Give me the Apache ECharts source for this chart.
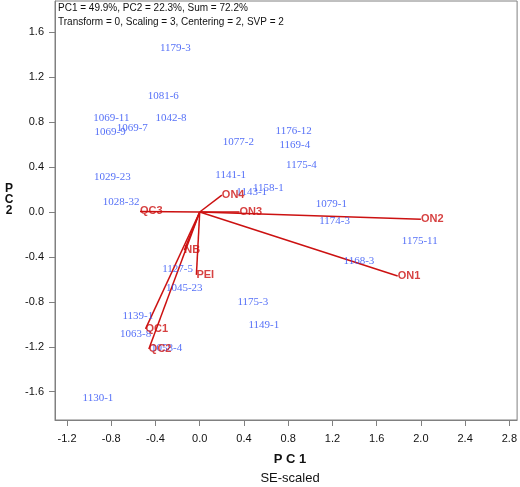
<!DOCTYPE html>
<html>
<head>
<meta charset="utf-8">
<script src="https://cdn.jsdelivr.net/npm/echarts@6/dist/echarts.min.js"></script>
<style>html,body{margin:0;padding:0;background:#fff}#c{width:520px;height:487px}</style>
</head>
<body>
<div id="c"></div>
<script>
// Score labels (sample ids) and their PC1/PC2 coordinates
const scoreNames = ['1179-3','1081-6','1069-11','1042-8','1069-7','1069-9','1077-2','1176-12','1169-4','1175-4','1029-23','1141-1','1158-1','1143-1','1028-32','1079-1','1174-3','1175-11','1168-3','1127-5','1045-23','1175-3','1149-1','1139-1','1063-8','1058-4','1130-1'];
const scoreX = [-0.22,-0.33,-0.80,-0.26,-0.61,-0.81,0.35,0.85,0.86,0.92,-0.79,0.28,0.62,0.47,-0.71,1.19,1.22,1.99,1.44,-0.20,-0.14,0.48,0.58,-0.56,-0.58,-0.30,-0.92];
const scoreY = [1.46,1.03,0.84,0.84,0.75,0.71,0.62,0.72,0.60,0.42,0.31,0.33,0.21,0.18,0.09,0.07,-0.08,-0.26,-0.44,-0.51,-0.68,-0.80,-1.01,-0.93,-1.09,-1.21,-1.66];

// Loading vectors (variables)
const loadNames = ['ON1','ON2','ON3','ON4','QC3','QC1','QC2','PEI','NB'];
const loadX = [1.79,2.00,0.36,0.20,-0.54,-0.49,-0.46,-0.03,-0.14];
const loadY = [-0.57,-0.065,0.0,0.15,0.005,-1.04,-1.22,-0.56,-0.34];

// Tick values
const xTicks = [-1.2,-0.8,-0.4,0.0,0.4,0.8,1.2,1.6,2.0,2.4,2.8];
const yTicks = [-1.6,-1.2,-0.8,-0.4,0.0,0.4,0.8,1.2,1.6];

const RED = '#cc1111';
const BLUE = '#2b4cf5';
const AX = '#808080';

const chart = echarts.init(document.getElementById('c'), null, {renderer:'canvas'});

const loadLineSeries = loadNames.map((n,i)=>({
  type:'line',
  data:[[0,0],[loadX[i],loadY[i]]],
  showSymbol:false,
  lineStyle:{color:RED,width:1.5},
  z:3,
  silent:true
}));

const option = {
  animation:false,
  grid:{left:55,right:2,top:1,bottom:67,show:true,borderColor:AX,borderWidth:1,backgroundColor:'transparent'},
  xAxis:{
    type:'value',min:-1.3087,max:2.870,
    axisLine:{show:true,onZero:false,lineStyle:{color:AX,width:1}},
    axisTick:{show:true,inside:false,length:6,lineStyle:{color:AX},customValues:xTicks},
    axisLabel:{show:true,margin:13,color:'#111',fontSize:11,fontFamily:'Liberation Sans, Arial, sans-serif',customValues:xTicks,formatter:v=>Number(v).toFixed(1)},
    splitLine:{show:false}
  },
  yAxis:{
    type:'value',min:-1.852,max:1.879,
    axisLine:{show:true,onZero:false,lineStyle:{color:AX,width:1}},
    axisTick:{show:true,inside:false,length:6,lineStyle:{color:AX},customValues:yTicks},
    axisLabel:{show:true,margin:11,color:'#111',fontSize:11,fontFamily:'Liberation Sans, Arial, sans-serif',customValues:yTicks,formatter:v=>Number(v).toFixed(1)},
    splitLine:{show:false}
  },
  graphic:[
    {type:'text',left:58,top:3,style:{text:'PC1 = 49.9%, PC2 = 22.3%, Sum = 72.2%',font:'10px "Liberation Sans", Arial, sans-serif',fill:'#111'}},
    {type:'text',left:58,top:17,style:{text:'Transform = 0, Scaling = 3, Centering = 2, SVP = 2',font:'10px "Liberation Sans", Arial, sans-serif',fill:'#111'}},
    {type:'text',x:290,y:459,style:{text:'P C 1',font:'bold 13px "Liberation Sans", Arial, sans-serif',fill:'#111',align:'center',verticalAlign:'middle'}},
    {type:'text',x:290,y:478,style:{text:'SE-scaled',font:'13px "Liberation Sans", Arial, sans-serif',fill:'#111',align:'center',verticalAlign:'middle'}},
    {type:'text',x:9,y:200,style:{text:'P\nC\n2',font:'bold 12px "Liberation Sans", Arial, sans-serif',fill:'#111',align:'center',verticalAlign:'middle',lineHeight:11}}
  ],
  series:[
    ...loadLineSeries,
    {
      type:'scatter',
      data:loadNames.map((n,i)=>({name:n,value:[loadX[i],loadY[i]]})),
      symbolSize:0,
      itemStyle:{color:'rgba(0,0,0,0)'},
      label:{show:true,position:'right',distance:0,formatter:'{b}',color:RED,fontWeight:'bold',fontSize:11,fontFamily:'Liberation Sans, Arial, sans-serif'},
      z:5,silent:true
    },
    {
      type:'scatter',
      data:scoreNames.map((n,i)=>({name:n,value:[scoreX[i],scoreY[i]]})),
      symbolSize:0,
      itemStyle:{color:'rgba(0,0,0,0)'},
      label:{show:true,position:'inside',formatter:'{b}',color:BLUE,fontSize:11,fontFamily:'Liberation Serif, Times New Roman, serif'},
      z:4,silent:true
    }
  ]
};
chart.setOption(option);
</script>
</body>
</html>
